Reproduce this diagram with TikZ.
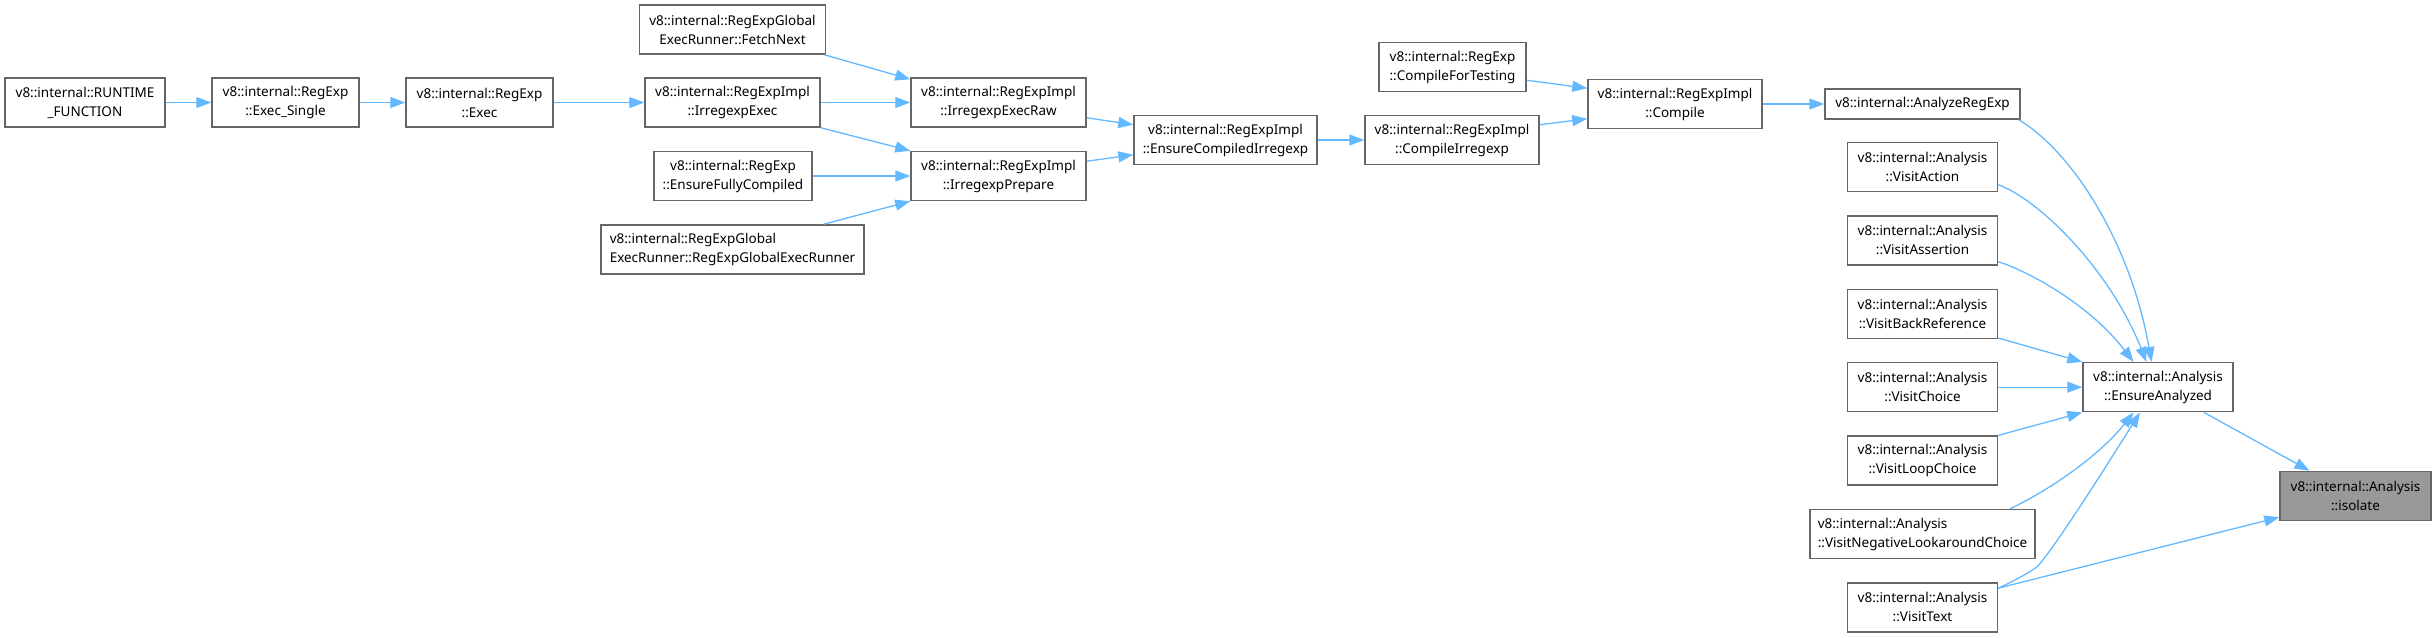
\documentclass[tikz,border=0pt]{standalone}
\usepackage{fontspec}
\setmainfont{Noto Sans}
\usetikzlibrary{arrows.meta,calc}
\definecolor{edgeblue}{HTML}{63B8FF}
\definecolor{boxgray}{HTML}{666666}
\definecolor{selgray}{HTML}{999999}
\newcommand{\nodefont}{\fontsize{13.5}{19}\selectfont}
\tikzset{
  fn/.style={draw=boxgray, line width=1.5pt, fill=white, inner sep=0pt,
    minimum height=49pt, align=center, font=\nodefont, text=black},
  edge/.style={draw=edgeblue, line width=1.3pt, -{Triangle[length=15pt,width=11pt]}},
}
\begin{document}
\begin{tikzpicture}[x=1pt,y=-1pt]
\useasboundingbox (0,0) rectangle (2435,637);
% nodes
\node[fn, minimum width=160pt] (runtime) at (85,102.5) {v8::internal::RUNTIME\\\_FUNCTION};
\node[fn, minimum width=147pt] (execsingle) at (285.5,102.5) {v8::internal::RegExp\\::Exec\_Single};
\node[fn, minimum width=147pt] (exec) at (479.5,102.5) {v8::internal::RegExp\\::Exec};
\node[fn, minimum width=175pt] (irrexec) at (732.5,102.5) {v8::internal::RegExpImpl\\::IrregexpExec};
\node[fn, minimum width=186pt] (fetchnext) at (732.5,29.5) {v8::internal::RegExpGlobal\\ExecRunner::FetchNext};
\node[fn, minimum width=158pt] (ensurefully) at (733,176) {v8::internal::RegExp\\::EnsureFullyCompiled};
\node[fn, align=left, minimum width=263pt] (globalrunner) at (732.5,249.5) {v8::internal::RegExpGlobal\\ExecRunner::RegExpGlobalExecRunner};
\node[fn, minimum width=175pt] (execraw) at (998.5,102.5) {v8::internal::RegExpImpl\\::IrregexpExecRaw};
\node[fn, minimum width=175pt] (prepare) at (998.5,176) {v8::internal::RegExpImpl\\::IrregexpPrepare};
\node[fn, minimum width=183pt] (ensurecompiled) at (1225.5,140) {v8::internal::RegExpImpl\\::EnsureCompiledIrregexp};
\node[fn, minimum width=147pt] (compilefortesting) at (1452.5,67) {v8::internal::RegExp\\::CompileForTesting};
\node[fn, minimum width=174pt] (compileirregexp) at (1452,140) {v8::internal::RegExpImpl\\::CompileIrregexp};
\node[fn, minimum width=174pt] (compile) at (1675,104) {v8::internal::RegExpImpl\\::Compile};
\node[fn, minimum width=195pt, minimum height=30pt] (analyzeregexp) at (1922.5,104) {v8::internal::AnalyzeRegExp};
\node[fn, minimum width=150pt] (visitaction) at (1922.5,167) {v8::internal::Analysis\\::VisitAction};
\node[fn, minimum width=150pt] (visitassertion) at (1922.5,240.4) {v8::internal::Analysis\\::VisitAssertion};
\node[fn, minimum width=150pt] (visitbackref) at (1922.5,313.8) {v8::internal::Analysis\\::VisitBackReference};
\node[fn, minimum width=150pt] (visitchoice) at (1922.5,387.2) {v8::internal::Analysis\\::VisitChoice};
\node[fn, minimum width=150pt] (visitloopchoice) at (1922.5,460.6) {v8::internal::Analysis\\::VisitLoopChoice};
\node[fn, align=left, minimum width=225pt] (visitneg) at (1922.5,534) {v8::internal::Analysis\\::VisitNegativeLookaroundChoice};
\node[fn, minimum width=150pt] (visittext) at (1922.5,607.4) {v8::internal::Analysis\\::VisitText};
\node[fn, minimum width=150pt] (ensureanalyzed) at (2158,387.2) {v8::internal::Analysis\\::EnsureAnalyzed};
\node[fn, minimum width=151pt, fill=selgray] (isolate) at (2355.5,496) {v8::internal::Analysis\\::isolate};
% edges
\draw[edge] (runtime.east) -- (execsingle.west);
\draw[edge] (execsingle.east) -- (exec.west);
\draw[edge] (exec.east) -- (irrexec.west);
\draw[edge] ([xshift=-2pt]fetchnext.south east) -- ([yshift=-2pt]execraw.north west);
\draw[edge] (irrexec.east) -- (execraw.west);
\draw[edge] (irrexec.south east) -- (prepare.north west);
\draw[edge] (ensurefully.east) -- (prepare.west);
\draw[edge] ([xshift=91pt]globalrunner.north) -- (prepare.south west);
\draw[edge] ([yshift=10pt]execraw.south east) -- ([yshift=-10pt]ensurecompiled.north west);
\draw[edge] ([yshift=-10.5pt]prepare.north east) -- ([yshift=10.5pt]ensurecompiled.south west);
\draw[edge] (ensurecompiled.east) -- (compileirregexp.west);
\draw[edge] ([yshift=12pt]compilefortesting.south east) -- ([yshift=-9.5pt]compile.north west);
\draw[edge] ([yshift=-10pt]compileirregexp.north east) -- ([yshift=10.5pt]compile.south west);
\draw[edge] (compile.east) -- (analyzeregexp.west);
\draw[edge] ([xshift=-2pt]analyzeregexp.south east) .. controls (2070,150) and (2130,240) .. ([xshift=-6.5pt]ensureanalyzed.north);
\draw[edge] ([yshift=7.5pt]visitaction.south east) .. controls (2040,200) and (2110,270) .. ([xshift=-11.5pt]ensureanalyzed.north);
\draw[edge] ([yshift=4pt]visitassertion.south east) .. controls (2030,272) and (2090,305) .. ([xshift=-24.5pt]ensureanalyzed.north);
\draw[edge] ([yshift=1pt]visitbackref.south east) -- (ensureanalyzed.north west);
\draw[edge] (visitchoice.east) -- (ensureanalyzed.west);
\draw[edge] (visitloopchoice.north east) -- (ensureanalyzed.south west);
\draw[edge] ([xshift=87.5pt]visitneg.north) .. controls (2050,490) and (2100,455) .. ([xshift=-24.5pt]ensureanalyzed.south);
\draw[edge] ([yshift=-6pt]visittext.north east) .. controls (2020,578) and (2030,572) .. (2038,566) .. controls (2060,540) and (2110,460) .. ([xshift=-18pt]ensureanalyzed.south);
\draw[edge] ([xshift=46pt]ensureanalyzed.south) -- ([xshift=-46pt]isolate.north);
\draw[edge] ([yshift=-6pt]visittext.north east) -- ([yshift=4pt]isolate.south west);
\end{tikzpicture}
\end{document}
